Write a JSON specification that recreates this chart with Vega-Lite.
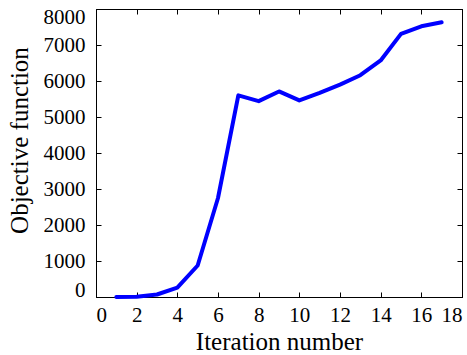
{
  "$schema": "https://vega.github.io/schema/vega-lite/v6.json",
  "width": 366,
  "height": 288,
  "autosize": {"type": "none"},
  "padding": {"left": 96, "top": 9, "right": 5, "bottom": 58},
  "background": "white",
  "config": {
    "view": {"stroke": "black", "strokeWidth": 1},
    "font": "Liberation Serif",
    "style": {
      "guide-label": {"font": "Liberation Serif", "fontSize": 21, "fill": "black"},
      "guide-title": {"font": "Liberation Serif", "fontSize": 25, "fill": "black"}
    },
    "axis": {
      "grid": false,
      "domainColor": "black",
      "tickColor": "black",
      "labelColor": "black",
      "titleColor": "black",
      "labelFont": "Liberation Serif",
      "titleFont": "Liberation Serif",
      "labelFontSize": 21,
      "titleFontSize": 25,
      "titleFontWeight": "normal",
      "tickSize": -5
    }
  },
  "data": {
    "values": [
      {"iter": 1, "obj": 0},
      {"iter": 2, "obj": 5},
      {"iter": 3, "obj": 70},
      {"iter": 4, "obj": 260},
      {"iter": 5, "obj": 875},
      {"iter": 6, "obj": 2750},
      {"iter": 7, "obj": 5600},
      {"iter": 8, "obj": 5440},
      {"iter": 9, "obj": 5710},
      {"iter": 10, "obj": 5460},
      {"iter": 11, "obj": 5670},
      {"iter": 12, "obj": 5900},
      {"iter": 13, "obj": 6160},
      {"iter": 14, "obj": 6570},
      {"iter": 15, "obj": 7310},
      {"iter": 16, "obj": 7520},
      {"iter": 17, "obj": 7630}
    ]
  },
  "layer": [
    {
      "mark": {"type": "line", "color": "#0000FF", "strokeWidth": 4, "strokeCap": "round", "strokeJoin": "round"},
      "encoding": {
        "x": {"field": "iter", "type": "quantitative", "scale": {"domain": [0, 18], "nice": false},
          "axis": {"title": "Iteration number", "format": "d", "labelFont": "Liberation Serif", "values": [0,2,4,6,8,10,12,14,16,18], "labelPadding": 12, "titlePadding": 4}},
        "y": {"field": "obj", "type": "quantitative", "scale": {"domain": [0, 8000], "nice": false},
          "axis": {"title": "Objective function", "format": "d", "labelFont": "Liberation Serif", "values": [0,1000,2000,3000,4000,5000,6000,7000,8000], "labelPadding": 16, "labelFlush": true, "labelFlushOffset": 3, "titleX": -64, "titleY": 131}}
      }
    },
    {
      "mark": {"type": "line", "opacity": 0},
      "encoding": {
        "x": {"field": "iter", "type": "quantitative", "axis": {"orient": "top", "labels": false, "title": null, "values": [0,2,4,6,8,10,12,14,16,18]}},
        "y": {"field": "obj", "type": "quantitative", "axis": {"orient": "right", "labels": false, "title": null, "values": [0,1000,2000,3000,4000,5000,6000,7000,8000]}}
      }
    }
  ],
  "resolve": {"axis": {"x": "independent", "y": "independent"}}
}
